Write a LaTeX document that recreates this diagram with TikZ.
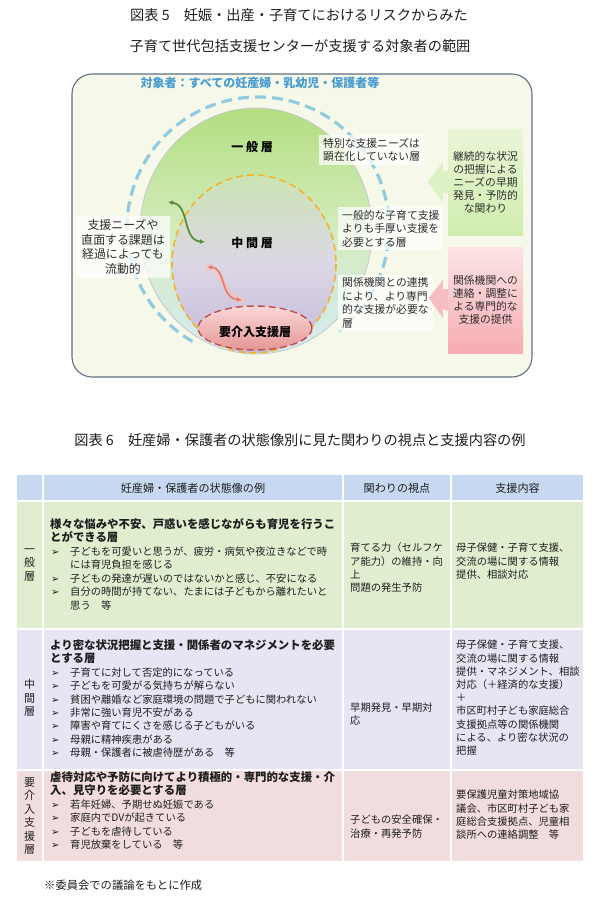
\documentclass[tikz,border=0pt]{standalone}
\usepackage{fontspec}
\setmainfont{Noto Sans CJK JP}
\newfontfamily\bulletfont{DejaVu Sans}
\usetikzlibrary{arrows.meta,shapes.geometric,calc}

\definecolor{framebg}{RGB}{246,249,234}
\definecolor{frameline}{RGB}{95,112,130}
\definecolor{targetblue}{RGB}{72,156,208}
\definecolor{ringblue}{RGB}{146,203,222}
\definecolor{ringorange}{RGB}{240,180,50}
\definecolor{ringred}{RGB}{190,80,80}
\definecolor{sphgreen}{RGB}{178,222,128}
\definecolor{sphpale}{RGB}{212,236,190}
\definecolor{sphblue}{RGB}{214,234,242}
\definecolor{midtop}{RGB}{204,228,180}
\definecolor{midmid}{RGB}{220,215,230}
\definecolor{midbot}{RGB}{196,184,216}
\definecolor{redtop}{RGB}{250,216,216}
\definecolor{redbot}{RGB}{228,150,150}
\definecolor{arrgreen}{RGB}{92,140,60}
\definecolor{arrred}{RGB}{230,120,120}
\definecolor{glowred}{RGB}{248,196,176}
\definecolor{boxgreenA}{RGB}{234,246,216}
\definecolor{boxgreenB}{RGB}{208,236,174}
\definecolor{boxpinkA}{RGB}{252,228,228}
\definecolor{boxpinkB}{RGB}{246,172,178}
\definecolor{blkgreen}{RGB}{222,242,198}
\definecolor{blkpink}{RGB}{246,190,194}
\definecolor{headfill}{RGB}{198,217,240}
\definecolor{genfill}{RGB}{224,238,208}
\definecolor{midfill}{RGB}{232,228,243}
\definecolor{intfill}{RGB}{242,221,222}
\definecolor{figtext}{RGB}{45,45,45}
\definecolor{tabtext}{RGB}{30,30,30}

\newcommand{\fsTitle}{\fontsize{14.2}{17}\selectfont}
\newcommand{\fsTarget}{\fontsize{12}{14}\selectfont}
\newcommand{\fsLayer}{\fontsize{12}{14}\selectfont}
\newcommand{\fsFig}{\fontsize{10.8}{13.6}\selectfont}
\newcommand{\fsLeft}{\fontsize{11.9}{14.7}\selectfont}
\newcommand{\fsSide}{\fontsize{10.8}{13}\selectfont}
\newcommand{\fsHead}{\fontsize{11.1}{13.4}\selectfont}
\newcommand{\fsLead}{\fontsize{11.4}{13.4}\selectfont}
\newcommand{\fsBody}{\fontsize{10.3}{13.4}\selectfont}
\newcommand{\fsCell}{\fontsize{10.3}{13.2}\selectfont}
\newcommand{\fsVert}{\fontsize{11}{13.5}\selectfont}
\newcommand{\itm}{\makebox[20pt][l]{\hspace{1pt}{\bulletfont\fontsize{10}{10}\selectfont ➢}}}
\newcommand{\itmgap}{\hspace*{20pt}}

\tikzset{
    titletext/.style={font=\fsTitle, text=tabtext, inner sep=0pt},
    framebox/.style={draw=frameline, line width=1.1pt, fill=framebg, rounded corners=20pt},
    targettext/.style={font=\bfseries\fsTarget, text=targetblue, inner sep=0pt},
    ringout/.style={draw=ringblue, line width=3.2pt, dash pattern=on 11pt off 6pt},
    sphere/.style={top color=sphgreen, bottom color=sphblue, middle color=sphpale, draw=black!22, line width=0.8pt},
    midzone/.style={top color=midtop, bottom color=midbot, middle color=midmid},
    midring/.style={draw=ringorange, line width=1.6pt, dash pattern=on 7pt off 4pt},
    intzone/.style={top color=redtop, bottom color=redbot},
    intring/.style={draw=ringred, line width=1.4pt, dash pattern=on 7pt off 4pt},
    layertext/.style={font=\bfseries\fsLayer, text=black, inner sep=0pt},
    flowgreen/.style={{Latex[length=5pt,width=5pt]}-{Latex[length=5pt,width=5pt]}, draw=arrgreen, line width=1.8pt},
    flowred/.style={{Latex[length=5pt,width=5pt]}-{Latex[length=5pt,width=5pt]}, draw=arrred, line width=1.6pt},
    glow/.style={draw=glowred, line width=6pt, opacity=0.55, line cap=round},
    notebox/.style={fill=white, fill opacity=0.72, text opacity=1, text=figtext, font=\fsFig,
        align=left, inner xsep=4pt, inner ysep=3pt},
    sidebox/.style={minimum width=75pt, minimum height=106pt, align=center, font=\fsSide,
        text=figtext, inner sep=0pt},
    cell/.style={draw=white, line width=2pt},
    headtext/.style={font=\fsHead, text=tabtext, inner sep=0pt},
    vertlabel/.style={font=\fsVert, text=tabtext, align=center, inner sep=0pt},
    statetext/.style={font=\fsBody, text=tabtext, align=left, anchor=west, inner sep=0pt},
    celltext/.style={font=\fsCell, text=tabtext, align=left, anchor=west, inner sep=0pt}
}

\begin{document}
\begin{tikzpicture}[x=1pt,y=-1pt]
\useasboundingbox (0,0) rectangle (601,899);

\node[titletext] (title5a) at (299,15) {図表 5　妊娠・出産・子育てにおけるリスクからみた};
\node[titletext] (title5b) at (300,46) {子育て世代包括支援センターが支援する対象者の範囲};

% target population figure
\draw[framebox] (72,74) rectangle (532,377);
\node[targettext] (target) at (260,83) {対象者：すべての妊産婦・乳幼児・保護者等};

\draw[ringout] (258,228) ++(120:131) arc[start angle=120, end angle=412, radius=131];
\path[sphere] (256,231) ellipse [x radius=116, y radius=123];
\path[midzone] (254,264) ellipse [x radius=82, y radius=89];
\draw[midring] (254,264) ellipse [x radius=82, y radius=89];
\path[intzone] (255,328) ellipse [x radius=57, y radius=22];
\draw[intring] (255,328) ellipse [x radius=57, y radius=22];

\node[layertext] (genL) at (252,147) {一 般 層};
\node[layertext] (midL) at (252,243) {中 間 層};
\node[layertext] (intL) at (255,332) {要介入支援層};

\coordinate (gA) at (168,202);
\coordinate (gB) at (205,242);
\draw[flowgreen] (gA) .. controls (190,205) and (182,240) .. (gB);
\coordinate (rA) at (207,267);
\coordinate (rB) at (242,300);
\draw[glow] (rA) .. controls (226,268) and (220,298) .. (rB);
\draw[flowred] (rA) .. controls (226,268) and (220,298) .. (rB);

\node[notebox, anchor=west] (noteGen) at (319,150) {特別な支援ニーズは\\顕在化していない層};
\node[notebox, anchor=west] (noteMid) at (338,228.5) {一般的な子育て支援\\よりも手厚い支援を\\必要とする層};
\node[notebox, anchor=west] (noteInt) at (338,303) {関係機関との連携\\により、より専門\\的な支援が必要な\\層};
\node[notebox, align=center, font=\fsLeft, inner xsep=5pt] (fluid) at (123,247) {支援ニーズや\\直面する課題は\\経過によっても\\流動的};

\node[sidebox, top color=boxgreenA, bottom color=boxgreenB] (watch) at (485.5,182) {継続的な状況\\の把握による\\ニーズの早期\\発見・予防的\\な関わり};
\node[sidebox, top color=boxpinkA, bottom color=boxpinkB] (link) at (485.5,300) {関係機関への\\連絡・調整に\\よる専門的な\\支援の提供};
\fill[blkgreen] ($(watch.west)+(0,-11)$) -- ++(-5,0) -- ++(0,-9) -- ($(watch.west)+(-20,0)$)
    -- ($(watch.west)+(-5,20)$) -- ++(0,-9) -- ($(watch.west)+(0,11)$) -- cycle;
\fill[blkpink] ($(link.west)+(0,-11)$) -- ++(-5,0) -- ++(0,-9) -- ($(link.west)+(-19,-2)$)
    -- ($(link.west)+(-5,18)$) -- ++(0,-9) -- ($(link.west)+(0,11)$) -- cycle;

% table
\node[titletext] (title6) at (300,440) {図表 6　妊産婦・保護者の状態像別に見た関わりの視点と支援内容の例};

\foreach \xa/\xb in {16/43,43/343,343/451,451/584}{
    \path[cell, fill=headfill] (\xa,474) rectangle (\xb,501);
    \path[cell, fill=genfill] (\xa,501) rectangle (\xb,629);
    \path[cell, fill=midfill] (\xa,629) rectangle (\xb,770);
    \path[cell, fill=intfill] (\xa,770) rectangle (\xb,862);
}

\node[headtext] (hState) at (193,488) {妊産婦・保護者の状態像の例};
\node[headtext] (hView) at (397,488) {関わりの視点};
\node[headtext] (hCont) at (517.5,488) {支援内容};

\node[vertlabel] (gLbl) at (29.5,565) {一\\般\\層};
\node[statetext] (gState) at (50,564.2) {%
{\bfseries\fsLead 様々な悩みや不安、戸惑いを感じながらも育児を行うこ}\\
{\bfseries\fsLead とができる層}\\
\itm 子どもを可愛いと思うが、疲労・病気や夜泣きなどで時\\
\itmgap には育児負担を感じる\\
\itm 子どもの発達が遅いのではないかと感じ、不安になる\\
\itm 自分の時間が持てない、たまには子どもから離れたいと\\
\itmgap 思う　等};
\node[celltext] (gView) at (350,567.8) {育てる力（セルフケ\\ア能力）の維持・向\\上\\問題の発生予防};
\node[celltext] (gCont) at (456,561.2) {母子保健・子育て支援、\\交流の場に関する情報\\提供、相談対応};

\node[vertlabel] (mLbl) at (29.5,698) {中\\間\\層};
\node[statetext] (mState) at (50,698.6) {%
{\bfseries\fsLead より密な状況把握と支援・関係者のマネジメントを必要}\\
{\bfseries\fsLead とする層}\\
\itm 子育てに対して否定的になっている\\
\itm 子どもを可愛がる気持ちが解らない\\
\itm 貧困や離婚など家庭環境の問題で子どもに関われない\\
\itm 非常に強い育児不安がある\\
\itm 障害や育てにくさを感じる子どもがいる\\
\itm 母親に精神疾患がある\\
\itm 母親・保護者に被虐待歴がある　等};
\node[celltext] (mView) at (350,714) {早期発見・早期対\\応};
\node[celltext] (mCont) at (456,697.8) {母子保健・子育て支援、\\交流の場に関する情報\\提供・マネジメント、相談\\対応（＋経済的な支援）\\＋\\市区町村子ども家庭総合\\支援拠点等の関係機関\\による、より密な状況の\\把握};

\node[vertlabel] (iLbl) at (29.5,816) {要\\介\\入\\支\\援\\層};
\node[statetext] (iState) at (50,810.5) {%
{\bfseries\fsLead 虐待対応や予防に向けてより積極的・専門的な支援・介}\\
{\bfseries\fsLead 入、見守りを必要とする層}\\
\itm 若年妊婦、予期せぬ妊娠である\\
\itm 家庭内でDVが起きている\\
\itm 子どもを虐待している\\
\itm 育児放棄をしている　等};
\node[celltext] (iView) at (350,826.5) {子どもの安全確保・\\治療・再発予防};
\node[celltext] (iCont) at (456,814.8) {要保護児童対策地域協\\議会、市区町村子ども家\\庭総合支援拠点、児童相\\談所への連絡調整　等};

\node[celltext, font=\fontsize{11.3}{13}\selectfont] (source) at (44,885) {※委員会での議論をもとに作成};
\end{tikzpicture}
\end{document}
